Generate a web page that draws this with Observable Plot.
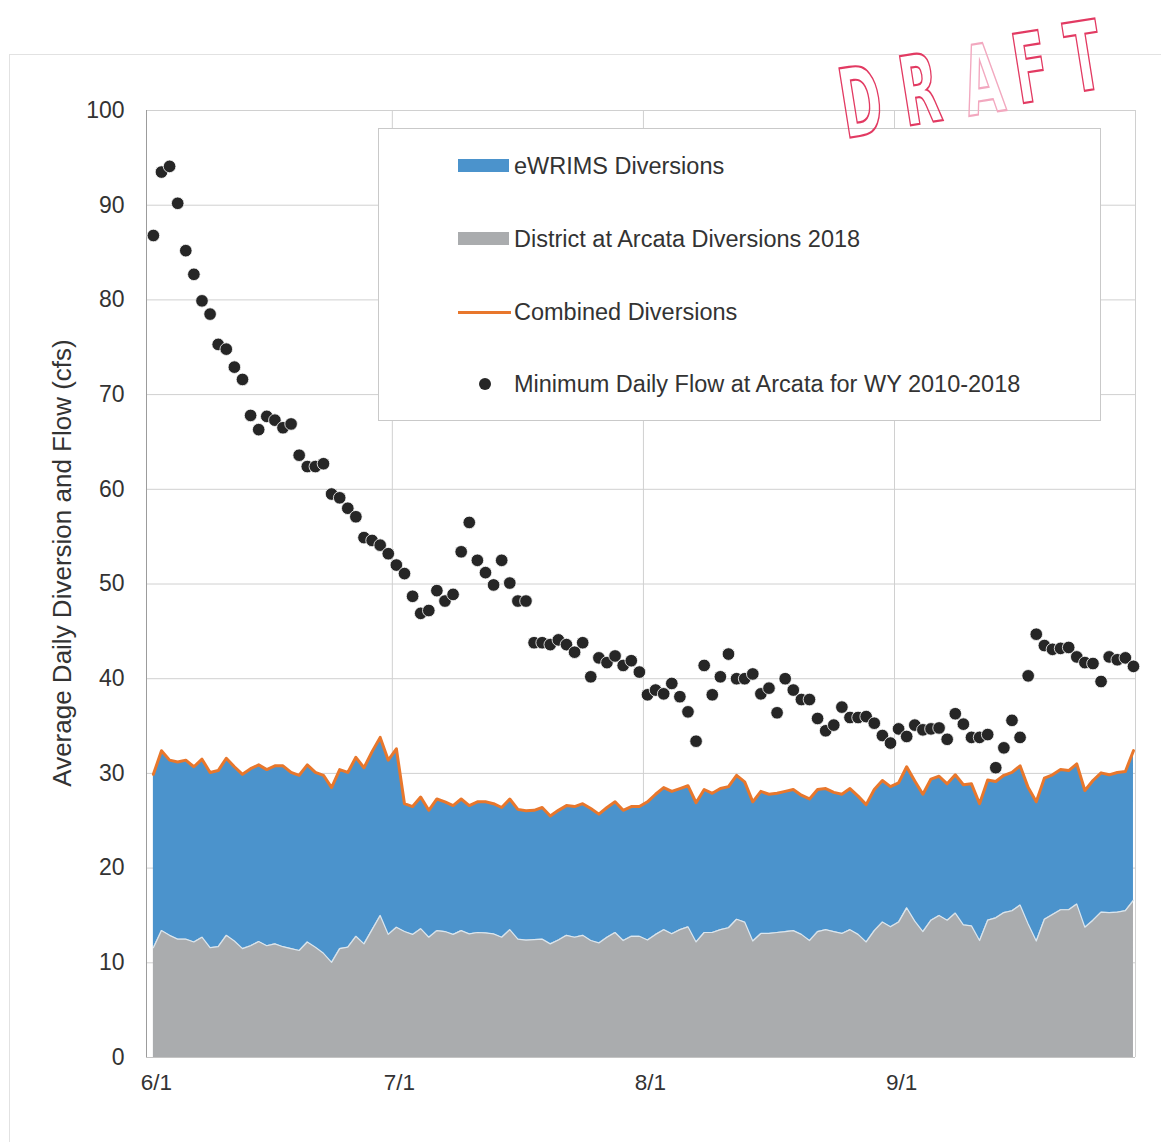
<!DOCTYPE html>
<html><head><meta charset="utf-8">
<script src="https://cdn.jsdelivr.net/npm/d3@7"></script>
<script src="https://cdn.jsdelivr.net/npm/@observablehq/plot@0.6"></script>
<style>
body{margin:0;background:#fff;font-family:"Liberation Sans",Arial,sans-serif;}
#wrap{position:relative;width:1161px;height:1142px;overflow:hidden;background:#fff;}
#wrap > svg{position:absolute;left:0;top:0;}
#border{position:absolute;left:9px;top:54px;width:1300px;height:1300px;border-left:1px solid #e2e2e2;border-top:1px solid #e2e2e2;}
#legend{position:absolute;left:378px;top:128px;width:721px;height:291px;border:1px solid #c9c9c9;background:#fff;}
.li{position:absolute;left:0;width:100%;height:0;}
.sw{position:absolute;}
.lt{position:absolute;left:135px;top:-14px;font-size:23.5px;line-height:28px;color:#333;white-space:nowrap;}
</style></head><body>
<div id="wrap"><div id="border"></div></div>
<script>
// Minimum daily flow at Arcata (cfs), one value per day from 6/1
const flow = [86.8, 93.5, 94.1, 90.2, 85.2, 82.7, 79.9, 78.5, 75.3, 74.8,
  72.9, 71.6, 67.8, 66.3, 67.7, 67.3, 66.5, 66.9, 63.6, 62.4,
  62.4, 62.7, 59.5, 59.1, 58.0, 57.1, 54.9, 54.6, 54.1, 53.2,
  52.0, 51.1, 48.7, 46.9, 47.2, 49.3, 48.2, 48.9, 53.4, 56.5,
  52.5, 51.2, 49.9, 52.5, 50.1, 48.2, 48.2, 43.8, 43.8, 43.6,
  44.1, 43.6, 42.8, 43.8, 40.2, 42.2, 41.7, 42.4, 41.4, 41.9,
  40.7, 38.3, 38.8, 38.4, 39.5, 38.1, 36.5, 33.4, 41.4, 38.3,
  40.2, 42.6, 40.0, 40.0, 40.5, 38.4, 39.0, 36.4, 40.0, 38.8,
  37.8, 37.8, 35.8, 34.5, 35.1, 37.0, 35.9, 35.9, 36.0, 35.3,
  34.0, 33.2, 34.7, 33.9, 35.1, 34.6, 34.7, 34.8, 33.6, 36.3,
  35.2, 33.8, 33.8, 34.1, 30.6, 32.7, 35.6, 33.8, 40.3, 44.7,
  43.5, 43.1, 43.2, 43.3, 42.3, 41.7, 41.6, 39.7, 42.3, 42.0,
  42.2, 41.3];

// District at Arcata diversions 2018 (cfs)
const district = [11.6, 13.4, 12.9, 12.5, 12.5, 12.2, 12.7, 11.6, 11.7, 12.9,
  12.3, 11.5, 11.8, 12.25, 11.8, 12.0, 11.7, 11.5, 11.3, 12.2,
  11.65, 11.0, 10.05, 11.5, 11.65, 12.8, 12.0, 13.5, 15.0, 13.0,
  13.76, 13.3, 13.0, 13.6, 12.7, 13.4, 13.3, 13.0, 13.4, 13.05,
  13.2, 13.15, 13.05, 12.7, 13.5, 12.5, 12.4, 12.45, 12.5, 12.0,
  12.4, 12.9, 12.7, 12.9, 12.35, 12.1, 12.7, 13.2, 12.35, 12.8,
  12.8, 12.4, 13.0, 13.5, 13.06, 13.5, 13.8, 12.2, 13.2, 13.2,
  13.5, 13.7, 14.6, 14.3, 12.3, 13.1, 13.1, 13.2, 13.3, 13.4,
  13.0, 12.35, 13.3, 13.5, 13.3, 13.1, 13.5, 13.0, 12.2, 13.4,
  14.3, 13.8, 14.3, 15.8, 14.4, 13.3, 14.5, 15.0, 14.5, 15.25,
  14.0, 13.9, 12.35, 14.5, 14.75, 15.3, 15.5, 16.1, 14.1, 12.3,
  14.6, 15.1, 15.6, 15.6, 16.2, 13.76, 14.5, 15.35, 15.3, 15.35,
  15.5, 16.6];

// Combined diversions (district + eWRIMS), cfs
const combined = [29.9, 32.4, 31.4, 31.2, 31.4, 30.7, 31.5, 30.1, 30.3, 31.6,
  30.7, 29.9, 30.5, 30.9, 30.4, 30.8, 30.8, 30.1, 29.8, 30.9,
  30.1, 29.8, 28.5, 30.4, 30.1, 31.7, 30.6, 32.3, 33.8, 31.4,
  32.6, 26.8, 26.5, 27.5, 26.1, 27.3, 27.0, 26.6, 27.3, 26.6,
  27.0, 27.0, 26.8, 26.4, 27.3, 26.2, 26.05, 26.1, 26.4, 25.5,
  26.1, 26.6, 26.5, 26.8, 26.3, 25.7, 26.4, 27.0, 26.1, 26.5,
  26.5, 27.0, 27.8, 28.5, 28.1, 28.4, 28.7, 26.9, 28.3, 27.9,
  28.4, 28.6, 29.8, 29.1, 27.0, 28.1, 27.8, 27.9, 28.1, 28.3,
  27.7, 27.3, 28.3, 28.4, 28.0, 27.8, 28.4, 27.6, 26.7, 28.3,
  29.25, 28.6, 29.0, 30.7, 29.2, 27.8, 29.4, 29.7, 28.9, 29.85,
  28.8, 28.9, 26.8, 29.3, 29.15, 29.8, 30.1, 30.8, 28.5, 27.0,
  29.5, 29.85, 30.4, 30.3, 31.0, 28.2, 29.25, 30.06, 29.85, 30.1,
  30.2, 32.4];

const xTickDays = [0, 30, 61, 92];
const xTickLabels = ["6/1", "7/1", "8/1", "9/1"];
const monthBoundaries = [29.5, 60.5, 91.5];
const yTicks = [0, 10, 20, 30, 40, 50, 60, 70, 80, 90, 100];
const yLabel = "Average Daily Diversion and Flow (cfs)";
const seriesNames = ["eWRIMS Diversions", "District at Arcata Diversions 2018", "Combined Diversions", "Minimum Daily Flow at Arcata for WY 2010-2018"];
const colors = {ewrims: "#4b93cc", district: "#aaacae", combined: "#e8772c", flow: "#262626"};

const data = flow.map((f, i) => ({day: i, flow: f, district: district[i], combined: combined[i]}));
const xDomain = [-0.85, 121.25];

const chart = Plot.plot({
  width: 1161, height: 1142,
  marginTop: 110, marginBottom: 85, marginLeft: 146, marginRight: 26,
  x: {domain: xDomain},
  y: {domain: [0, 100]},
  style: {fontFamily: "'Liberation Sans', Arial, sans-serif", fontSize: "22px", color: "#333", background: "transparent"},
  marks: [
    Plot.gridY(yTicks.slice(1), {stroke: "#d0d0d0", strokeOpacity: 1}),
    Plot.ruleX([...monthBoundaries, xDomain[1]], {stroke: "#d0d0d0"}),
    Plot.areaY(data, {x: "day", y1: 0, y2: "district", fill: colors.district}),
    Plot.areaY(data, {x: "day", y1: "district", y2: "combined", fill: colors.ewrims}),
    Plot.lineY(data, {x: "day", y: "district", stroke: "#dbe6ee", strokeWidth: 1.2}),
    Plot.lineY(data, {x: "day", y: "combined", stroke: colors.combined, strokeWidth: 3}),
    Plot.ruleX([xDomain[0]], {stroke: "#9c9c9c"}),
    Plot.ruleY([0], {stroke: "#c4c4c4"}),
    Plot.dot(data, {x: "day", y: "flow", r: 6.3, fill: colors.flow, stroke: "#fff", strokeWidth: 0.8}),
    Plot.axisY(yTicks, {tickSize: 0, tickPadding: 22, fontSize: 23, label: null, fill: "#333"}),
    Plot.axisX(xTickDays, {tickSize: 0, tickPadding: 17, fontSize: 22.5, label: null, dx: 3, fill: "#333",
      tickFormat: d => xTickLabels[xTickDays.indexOf(d)]}),
    Plot.text([yLabel], {text: d => d, frameAnchor: "left", textAnchor: "middle", rotate: -90, dx: -84, dy: -21, fontSize: 26, fill: "#333"})
  ]
});
const wrap = document.getElementById("wrap");
wrap.appendChild(chart);

// legend (inside the plot area, as in the original)
const legend = document.createElement("div");
legend.id = "legend";
const rowTops = [37, 110, 183, 255];
seriesNames.forEach((name, i) => {
  const row = document.createElement("div");
  row.className = "li";
  row.style.top = rowTops[i] + "px";
  const sw = document.createElement("div");
  sw.className = "sw";
  if (i === 0) Object.assign(sw.style, {left: "79px", top: "-7px", width: "51px", height: "13px", background: colors.ewrims});
  if (i === 1) Object.assign(sw.style, {left: "79px", top: "-7px", width: "51px", height: "13px", background: colors.district});
  if (i === 2) Object.assign(sw.style, {left: "79px", top: "-1.5px", width: "53px", height: "3px", background: colors.combined});
  if (i === 3) Object.assign(sw.style, {left: "100px", top: "-6px", width: "12px", height: "12px", borderRadius: "50%", background: colors.flow});
  const t = document.createElement("div");
  t.className = "lt";
  t.textContent = name;
  row.appendChild(sw); row.appendChild(t);
  legend.appendChild(row);
});
wrap.appendChild(legend);

// DRAFT stamp
const stampLetters = ["D", "R", "A", "F", "T"];
const stampPos = [[866, 135], [925, 123], [988, 113], [1036, 101], [1089, 90]];
const stamp = d3.create("svg").attr("width", 1161).attr("height", 200)
  .style("position", "absolute").style("left", "0px").style("top", "0px");
stamp.selectAll("text").data(stampLetters).join("text")
  .attr("transform", (d, i) => `translate(${stampPos[i][0]},${stampPos[i][1]}) rotate(-9) scale(0.58,1)`)
  .attr("text-anchor", "middle")
  .attr("font-family", "'DejaVu Sans Condensed', 'DejaVu Sans', sans-serif")
  .attr("font-weight", "bold")
  .attr("font-size", 96)
  .attr("fill", "none")
  .attr("stroke", (d, i) => i === 2 ? "#f2a8bf" : "#e23a62")
  .attr("stroke-width", 2.2)
  .text(d => d);
wrap.appendChild(stamp.node());
</script></body></html>
